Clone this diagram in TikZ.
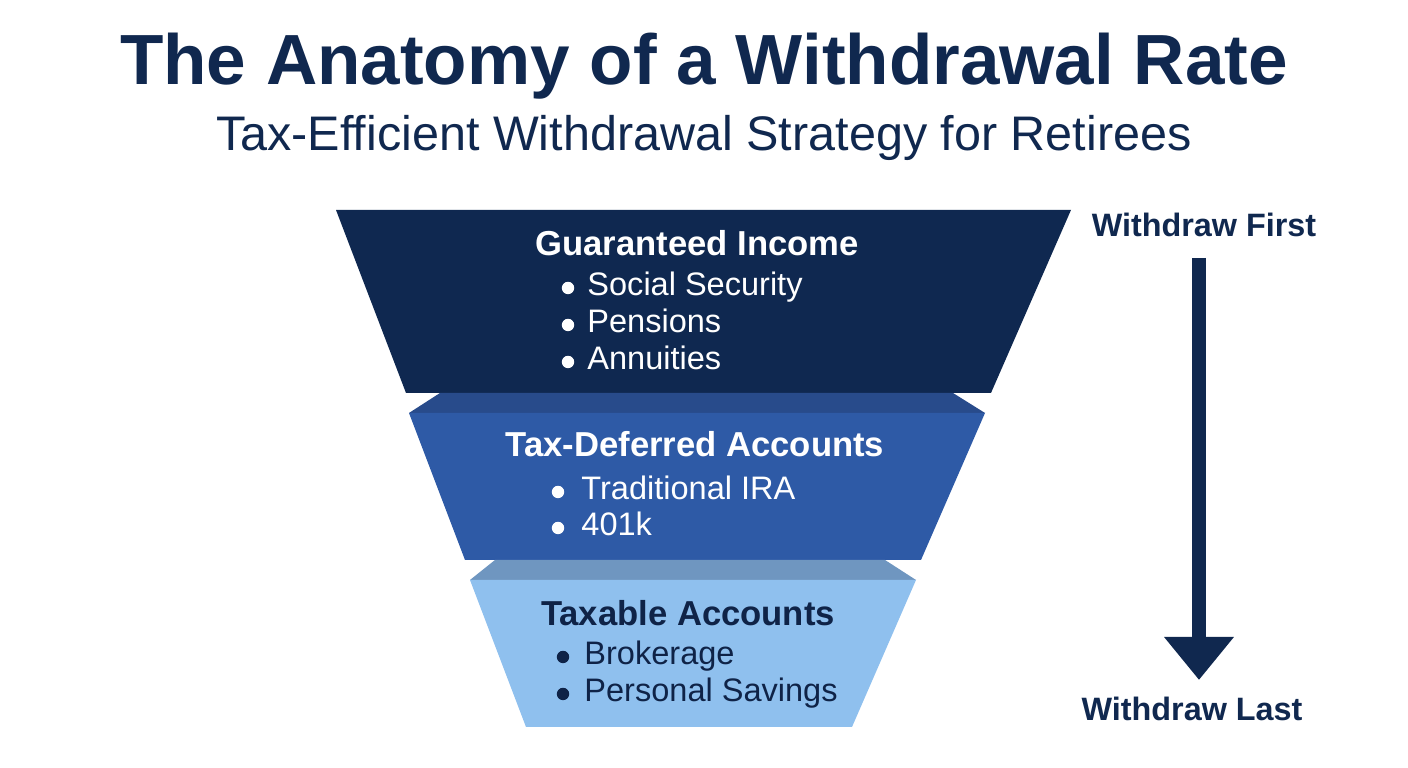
\documentclass[tikz,border=0pt]{standalone}
\usepackage{fontspec}
\setmainfont{Liberation Sans}
\usepackage{tikz}
\usetikzlibrary{arrows.meta,positioning,calc}
\usepackage{xcolor}
\definecolor{navy}{HTML}{10284F}
\definecolor{tierone}{HTML}{0F2850}
\definecolor{ledgeone}{HTML}{284B8B}
\definecolor{tiertwo}{HTML}{2E5AA6}
\definecolor{ledgetwo}{HTML}{6F96C0}
\definecolor{tierthree}{HTML}{8FC0EE}
\definecolor{darktext}{HTML}{0F2347}

\begin{document}
\begin{tikzpicture}[x=0.01cm,y=-0.01cm,
    title/.style={font=\fontsize{20.2}{24}\selectfont\bfseries, text=navy, anchor=base},
    subtitle/.style={font=\fontsize{13.8}{16}\selectfont, text=navy, anchor=base},
    heading/.style={font=\fontsize{9.85}{12}\selectfont\bfseries, anchor=base, inner sep=1pt},
    item/.style={font=\fontsize{9.25}{11}\selectfont, anchor=base west, inner sep=0.5pt},
    side/.style={font=\fontsize{9.2}{11}\selectfont\bfseries, text=navy, anchor=base}]
\useasboundingbox (0,0) rectangle (1408,768);
\fill[white] (0,0) rectangle (1408,768);
% title
\node[title] (title) at (704,85) {The Anatomy of a Withdrawal Rate};
\node[subtitle] (subtitle) at (704,151) {Tax-Efficient Withdrawal Strategy for Retirees};
% funnel
\fill[tierone] (336,210) -- (1071,210) -- (991,393) -- (406,393) -- cycle;
\fill[ledgeone] (440,393) -- (953,393) -- (985,413) -- (409,413) -- cycle;
\fill[tiertwo] (409,413) -- (985,413) -- (921,560) -- (465,560) -- cycle;
\fill[ledgetwo] (495,560) -- (885,560) -- (916,580) -- (470,580) -- cycle;
\fill[tierthree] (470,580) -- (916,580) -- (852,727) -- (526,727) -- cycle;
% tier texts
\node[heading, text=white] (guaranteed) at (697,256) {Guaranteed Income};
\foreach \y/\t [count=\i] in {296/Social Security,333/Pensions,370/Annuities}{
    \fill[white] (568,\y-8) circle (0.62mm);
    \node[item, text=white] (guaranteed-\i) at (585,\y) {\t};
}
\node[heading, text=white] (deferred) at (695,457) {Tax-Deferred Accounts};
\foreach \y/\t [count=\i] in {500/Traditional IRA,536/401k}{
    \fill[white] (558,\y-8) circle (0.62mm);
    \node[item, text=white] (deferred-\i) at (579,\y) {\t};
}
\node[heading, text=darktext] (taxable) at (688,626) {Taxable Accounts};
\foreach \y/\t [count=\i] in {665/Brokerage,702/Personal Savings}{
    \fill[darktext] (563,\y-8) circle (0.62mm);
    \node[item, text=darktext] (taxable-\i) at (582,\y) {\t};
}
% order arrow
\node[side] (first) at (1204,237) {Withdraw First};
\node[side] (last) at (1192,721) {Withdraw Last};
\coordinate (arrtop) at (1199,258);
\coordinate (arrtip) at (1199,680);
\draw[navy, line width=1.45mm, -{Triangle[length=4.3mm,width=6.7mm]}] (arrtop) -- (arrtip);
\end{tikzpicture}
\end{document}
